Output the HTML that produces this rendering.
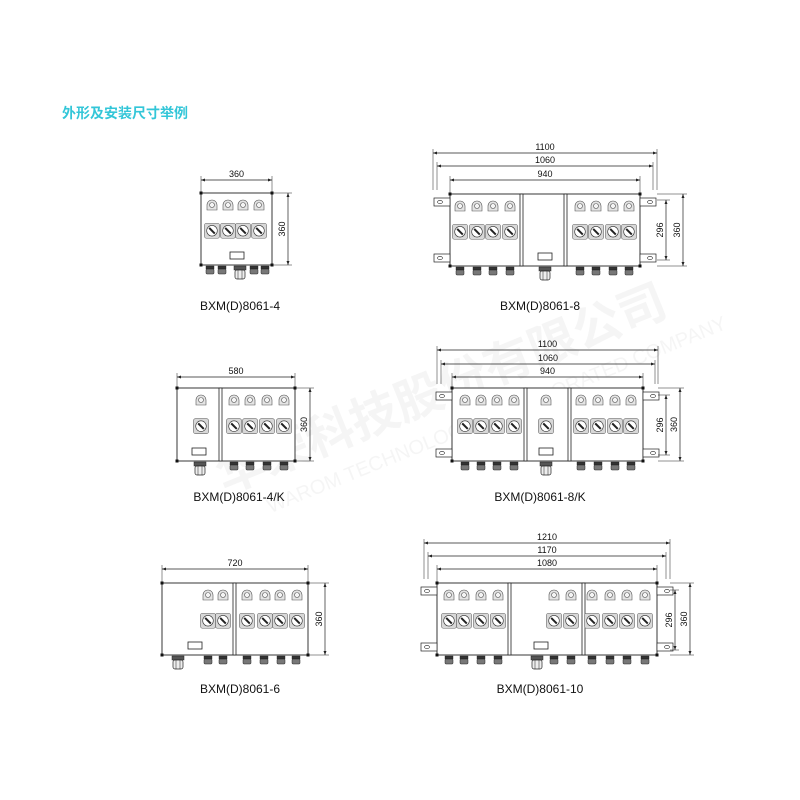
<!DOCTYPE html>
<html><head><meta charset="utf-8"><style>
html,body{margin:0;padding:0;background:#fff;width:800px;height:800px;overflow:hidden}
svg{display:block}
</style></head><body>
<svg id="s" width="800" height="800" xmlns="http://www.w3.org/2000/svg" font-family="Liberation Sans, Arial, sans-serif">
<text x="62" y="118" font-size="14" font-weight="bold" fill="#33c6d8" font-family="Liberation Sans, Noto Sans CJK SC, sans-serif">外形及安装尺寸举例</text>
<g opacity="0.08" fill="#888" font-family="Liberation Sans, Noto Sans CJK SC, sans-serif" transform="rotate(-22 400 380)">
<text x="195" y="420" font-size="48" font-weight="bold">华荣科技股份有限公司</text>
<text x="230" y="455" font-size="20">WAROM TECHNOLOGY INCORPORATED COMPANY</text>
</g>
</svg>
<script>
const s=document.getElementById('s');let h='';
function L(x1,y1,x2,y2,w){h+=`<line x1="${x1}" y1="${y1}" x2="${x2}" y2="${y2}" stroke="#222" stroke-width="${w||0.8}"/>`}
function R(x,y,w,hh,f,sw,rx,sc){h+=`<rect x="${x}" y="${y}" width="${w}" height="${hh}" rx="${rx||0}" fill="${f||'none'}" stroke="${sc||'#222'}" stroke-width="${sw||0.8}"/>`}
function T(x,y,t,sz,rot){h+=`<text x="${x}" y="${y}" font-size="${sz||9}" text-anchor="middle" fill="#111"${rot?` transform="rotate(-90 ${x} ${y})"`:''}>${t}</text>`}
function ah(x,y,d){const a=3;if(d=='l')h+=`<path d="M${x} ${y}l${a+1} -1.5v3z" fill="#222"/>`;if(d=='r')h+=`<path d="M${x} ${y}l-${a+1} -1.5v3z" fill="#222"/>`;if(d=='u')h+=`<path d="M${x} ${y}l-1.5 ${a+1}h3z" fill="#222"/>`;if(d=='d')h+=`<path d="M${x} ${y}l-1.5 -${a+1}h3z" fill="#222"/>`;}
function hd(x1,x2,y,t,by){L(x1,y,x2,y,0.7);ah(x1,y,'l');ah(x2,y,'r');L(x1,y-4,x1,by,0.5);L(x2,y-4,x2,by,0.5);T((x1+x2)/2,y-3,t,9);}
function vd(x,y1,y2,t,lx){L(x,y1,x,y2,0.7);ah(x,y1,'u');ah(x,y2,'d');L(lx,y1,x+4,y1,0.5);L(lx,y2,x+4,y2,0.5);T(x-3,(y1+y2)/2,t,9,1);}
function lamp(cx,y){h+=`<path d="M${cx-5} ${y+12}v-5a5 5 0 0 1 10 0v5z" fill="#e4e4e4" stroke="#555" stroke-width="0.6"/><circle cx="${cx}" cy="${y+7}" r="2.5" fill="#f4f4f4" stroke="#555" stroke-width="0.6"/>`}
function sw(cx,y){R(cx-7.5,y,15,15,'#d8d8d8',0.6,2,'#666');h+=`<circle cx="${cx}" cy="${y+7.5}" r="5.3" fill="#fff" stroke="#333" stroke-width="0.6"/><line x1="${cx-2.8}" y1="${y+4.7}" x2="${cx+2.8}" y2="${y+10.3}" stroke="#222" stroke-width="2"/>`}
function gl(cx,y){R(cx-4,y,8,3,'#333',0.4);R(cx-4,y+3,8,5,'#777',0.5,1)}
function big(cx,y){R(cx-6,y,12,4,'#555',0.5);R(cx-5,y+4,10,9,'#eee',0.7,2);L(cx-2,y+4,cx-2,y+13,0.5);L(cx+2,y+4,cx+2,y+13,0.5)}
function box(x,y,w,hh){R(x,y,w,hh,'#fff',0.9);[[x,y],[x+w,y],[x,y+hh],[x+w,y+hh]].forEach(p=>h+=`<rect x="${p[0]-1.5}" y="${p[1]-1.5}" width="3" height="3" fill="#111"/>`)}
function div(x,y,hh){R(x,y,3,hh,'#fff',0.8);}
function brk(x,y,side){const w=16;const bx=side=='l'?x-w:x;R(bx,y-4,w,8,'#fff',0.7);h+=`<ellipse cx="${side=='l'?x-10:x+10}" cy="${y}" rx="2.5" ry="1.6" fill="none" stroke="#222" stroke-width="0.6"/>`}
function win(cx,y){R(cx-7,y,14,7,'#fff',0.8)}
function unit(o){const{x,y,w,hh}=o;box(x,y,w,hh);(o.divs||[]).forEach(d=>div(d,y,hh));
 (o.lamps||[]).forEach(c=>lamp(c,y+5));(o.sws||[]).forEach(c=>sw(c,y+hh*0.42));
 (o.gl||[]).forEach(c=>gl(c,y+hh+1));if(o.big)big(o.big,y+hh+1);win(o.win,y+hh-13);
 if(o.brk){brk(x,y+8,'l');brk(x,y+hh-8,'l');brk(x+w,y+8,'r');brk(x+w,y+hh-8,'r')}}
unit({x:201,y:193,w:71,hh:72,lamps:[212,228,243,259],sws:[212,228,243,259],gl:[210,222,254,265],big:240,win:237});
hd(201,272,180,'360',193);vd(288,193,265,'360',272);T(240,310,'BXM(D)8061-4',12);
unit({x:450,y:194,w:190,hh:72,divs:[520,564],lamps:[460,477,493,510,580,596,613,629],sws:[460,477,493,510,580,596,613,629],gl:[460,477,493,510,580,596,613,629],big:545,win:545,brk:1});
hd(433,657,153,'1100',190);hd(437,653,166,'1060',190);hd(450,640,180,'940',194);
vd(666,200,260,'296',657);vd(683,194,266,'360',657);T(540,310,'BXM(D)8061-8',12);
unit({x:177,y:388,w:118,hh:73,divs:[219],lamps:[201,234,250,267,284],sws:[201,234,250,267,284],gl:[234,250,267,284],big:200,win:199});
hd(177,295,377,'580',388);vd(310,388,461,'360',295);T(239,501,'BXM(D)8061-4/K',12);
unit({x:452,y:388,w:191,hh:73,divs:[524,568],lamps:[465,481,497,514,546,581,598,615,631],sws:[465,481,497,514,546,581,598,615,631],gl:[465,481,497,514,581,598,615,631],big:546,win:546,brk:1});
hd(437,658,350,'1100',384);hd(441,655,364,'1060',384);hd(452,643,377,'940',388);
vd(666,395,455,'296',658);vd(680,388,461,'360',658);T(540,501,'BXM(D)8061-8/K',12);
unit({x:162,y:583,w:146,hh:72,divs:[233],lamps:[208,223,247,265,280,297],sws:[208,223,247,265,280,297],gl:[208,223,247,264,281,296],big:178,win:195});
hd(162,308,569,'720',583);vd(325,583,655,'360',308);T(240,693,'BXM(D)8061-6',12);
unit({x:437,y:583,w:220,hh:72,divs:[508,582],lamps:[449,464,481,498,554,571,592,610,627,645],sws:[449,464,481,498,554,571,592,610,627,645],gl:[449,464,481,498,554,571,592,610,627,645],big:537,win:541,brk:1});
hd(424,670,543,'1210',579);hd(428,666,556,'1170',579);hd(437,657,569,'1080',583);
vd(675,590,650,'296',670);vd(690,583,655,'360',670);T(540,693,'BXM(D)8061-10',12);
s.insertAdjacentHTML('beforeend',h);
</script>
</body></html>
